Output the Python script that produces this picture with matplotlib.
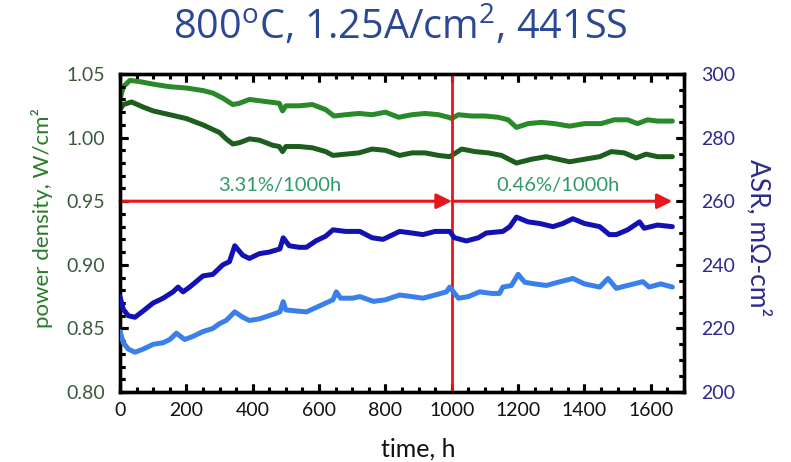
import matplotlib
matplotlib.use("Agg")
import matplotlib.pyplot as plt
from matplotlib.ticker import MultipleLocator, FormatStrFormatter

plt.rcParams.update({
    'font.family': ['Lato', 'DejaVu Sans'],
    'mathtext.fontset': 'custom',
    'mathtext.rm': 'Open Sans',
})

# Power density, cell A (upper curve)
t_pd_a = [0, 10, 30, 60, 100, 150, 200, 250, 280, 310, 340, 360, 390, 420, 480, 490,
          500, 540, 580, 620, 645, 680, 720, 760, 800, 840, 880, 920, 960, 990, 1000,
          1020, 1060, 1100, 1140, 1170, 1195, 1230, 1270, 1310, 1355, 1400, 1450, 1490,
          1530, 1560, 1590, 1620, 1665]
pd_a = [1.030, 1.040, 1.045, 1.044, 1.042, 1.040, 1.039, 1.037, 1.035, 1.031, 1.026,
        1.027, 1.030, 1.029, 1.027, 1.021, 1.025, 1.025, 1.026, 1.022, 1.017, 1.018,
        1.019, 1.018, 1.020, 1.016, 1.018, 1.019, 1.018, 1.016, 1.015, 1.018, 1.017,
        1.017, 1.016, 1.014, 1.008, 1.011, 1.012, 1.011, 1.009, 1.011, 1.011, 1.014,
        1.014, 1.011, 1.014, 1.013, 1.013]

# Power density, cell B (lower curve)
t_pd_b = [0, 10, 35, 70, 100, 150, 200, 250, 300, 320, 340, 360, 390, 420, 460, 480,
          490, 500, 540, 580, 620, 642, 680, 720, 760, 800, 843, 880, 920, 960, 994,
          1000, 1030, 1070, 1110, 1150, 1195, 1240, 1285, 1320, 1355, 1400, 1446, 1481,
          1520, 1556, 1586, 1620, 1665]
pd_b = [1.022, 1.026, 1.028, 1.024, 1.021, 1.018, 1.015, 1.010, 1.004, 0.999, 0.995,
        0.996, 0.999, 0.998, 0.994, 0.993, 0.989, 0.993, 0.993, 0.992, 0.989, 0.986,
        0.987, 0.988, 0.991, 0.990, 0.986, 0.988, 0.988, 0.986, 0.985, 0.986, 0.991,
        0.989, 0.988, 0.986, 0.980, 0.983, 0.985, 0.983, 0.981, 0.983, 0.985, 0.989,
        0.988, 0.984, 0.987, 0.985, 0.985]

# ASR, cell B (upper ASR curve), mOhm-cm2
t_asr_b = [0, 10, 25, 45, 70, 100, 130, 160, 175, 190, 210, 250, 280, 310, 330, 346,
           370, 390, 420, 450, 482, 492, 510, 540, 562, 590, 620, 642, 680, 723, 760,
           793, 843, 880, 913, 950, 994, 1008, 1044, 1080, 1104, 1154, 1175, 1195, 1230,
           1265, 1305, 1335, 1365, 1400, 1446, 1475, 1496, 1530, 1566, 1580, 1620, 1665]
asr_b = [230.0, 226.0, 224.0, 223.5, 225.5, 228.0, 229.5, 231.5, 233.0, 231.5, 233.0,
         236.5, 237.0, 240.0, 241.0, 246.0, 243.0, 242.0, 243.5, 244.0, 245.0, 248.5,
         246.0, 245.5, 245.5, 247.5, 249.0, 251.0, 250.5, 250.5, 248.5, 248.0, 250.5,
         250.0, 249.5, 250.5, 250.5, 248.5, 247.5, 248.5, 250.0, 250.5, 252.0, 255.0,
         253.5, 253.0, 252.0, 253.0, 254.5, 253.0, 252.0, 249.5, 249.5, 251.0, 253.5,
         251.5, 252.5, 252.0]

# ASR, cell A (lower ASR curve), mOhm-cm2
t_asr_a = [0, 10, 25, 45, 70, 100, 130, 150, 170, 195, 220, 250, 280, 300, 320, 346,
           370, 390, 420, 450, 482, 492, 500, 530, 562, 600, 642, 652, 665, 700, 723,
           764, 800, 843, 880, 913, 950, 984, 994, 1020, 1050, 1084, 1120, 1144, 1154,
           1180, 1200, 1220, 1250, 1285, 1320, 1365, 1400, 1446, 1471, 1496, 1530, 1576,
           1595, 1630, 1665]
asr_a = [219.0, 215.5, 213.5, 212.5, 213.5, 215.0, 215.5, 216.5, 218.5, 216.5, 217.5,
         219.0, 220.0, 221.5, 222.5, 225.2, 223.5, 222.5, 223.0, 224.0, 225.2, 228.4,
         225.8, 225.5, 225.2, 227.0, 229.0, 231.5, 229.5, 229.5, 230.0, 228.5, 229.0,
         230.5, 230.0, 229.5, 230.5, 231.5, 233.0, 229.5, 230.0, 231.5, 231.0, 231.0,
         233.0, 233.5, 237.0, 234.5, 234.0, 233.5, 234.5, 235.7, 234.0, 233.0, 235.7,
         232.6, 233.5, 234.7, 233.0, 234.0, 233.0]

# Degradation rates over the two periods
split_time = 1000
end_time = 1665
arrow_level = 0.95
rate_labels = ["3.31%/1000h", "0.46%/1000h"]
rate_label_x = [482, 1319]

x_ticks = list(range(0, 1601, 200))

fig = plt.figure(figsize=(7.91, 4.62), dpi=100)
ax = fig.add_axes([0.1517, 0.1515, 0.713, 0.6883])
ax2 = ax.twinx()

green_light = '#2a8a2a'
green_dark = '#1d5e1f'
blue_dark = '#1212b4'
blue_light = '#3a80ea'
red = '#e8161b'

line_kw = dict(lw=3.6, solid_joinstyle='round', solid_capstyle='round')
ax.plot(t_pd_a, pd_a, color=green_light, **line_kw, zorder=3)
ax.plot(t_pd_b, pd_b, color=green_dark, **line_kw, zorder=3)
ax2.plot(t_asr_b, asr_b, color=blue_dark, **line_kw, zorder=3)
ax2.plot(t_asr_a, asr_a, color=blue_light, **line_kw, zorder=3)

ax.set_xlim(0, 1700)
ax.set_ylim(0.80, 1.05)
ax2.set_ylim(200, 300)

# Red markers: split line and the two period arrows
ax.axvline(split_time, color=red, lw=2, zorder=5)
arrow_kw = dict(arrowstyle='-|>,head_length=0.9,head_width=0.45', color=red, lw=2.2,
                shrinkA=0, shrinkB=0)
ax.annotate('', xy=(split_time, arrow_level), xytext=(0, arrow_level),
            arrowprops=arrow_kw, zorder=6)
ax.annotate('', xy=(end_time, arrow_level), xytext=(split_time, arrow_level),
            arrowprops=arrow_kw, zorder=6)
for lbl, xp in zip(rate_labels, rate_label_x):
    ax.text(xp, arrow_level + 0.0055, lbl, color='#2e9a6c', fontsize=14.5,
            ha='center', va='bottom')

# Tick positions
ax.set_xticks(x_ticks)
ax.xaxis.set_minor_locator(MultipleLocator(50))
ax.yaxis.set_major_locator(MultipleLocator(0.05))
ax.yaxis.set_minor_locator(MultipleLocator(0.01))
ax.yaxis.set_major_formatter(FormatStrFormatter('%.2f'))
ax2.yaxis.set_major_locator(MultipleLocator(20))
ax2.yaxis.set_minor_locator(MultipleLocator(5))

# Tick marks: inward on all four sides
ax.tick_params(axis='x', which='both', direction='in', top=True, bottom=True)
ax.tick_params(axis='y', which='both', direction='in', left=True, right=False)
ax2.tick_params(axis='y', which='both', direction='in', left=False, right=True)
for a in (ax, ax2):
    a.tick_params(which='major', length=5.8, width=2.2, color='black')
    a.tick_params(which='minor', length=3.3, width=2.2, color='black')
ax.tick_params(axis='x', which='major', labelsize=14, labelcolor='#111111', pad=7)
ax.tick_params(axis='y', which='major', labelsize=14, labelcolor='#3b5a3b', pad=11)
ax2.tick_params(axis='y', which='major', labelsize=14, labelcolor='#2b2b8c', pad=12)

# Also stroke the inward tick marks as line segments at the locator positions
tick_style = dict(colors='black', lw=2.2, clip_on=False, zorder=4)
x_lo, x_hi = ax.get_xlim()
xtr = ax.get_xaxis_transform()
for locs, frac in ((ax.xaxis.get_majorticklocs(), 0.025),
                   (ax.xaxis.get_minorticklocs(), 0.014)):
    locs = [v for v in locs if x_lo <= v <= x_hi]
    ax.vlines(locs, 0, frac, transform=xtr, **tick_style)
    ax.vlines(locs, 1 - frac, 1, transform=xtr, **tick_style)
y_lo, y_hi = ax.get_ylim()
for locs, frac in ((ax.yaxis.get_majorticklocs(), 0.0142),
                   (ax.yaxis.get_minorticklocs(), 0.008)):
    locs = [v for v in locs if y_lo - 1e-9 <= v <= y_hi + 1e-9]
    ax.hlines(locs, 0, frac, transform=ax.get_yaxis_transform(), **tick_style)
r_lo, r_hi = ax2.get_ylim()
for locs, frac in ((ax2.yaxis.get_majorticklocs(), 0.0142),
                   (ax2.yaxis.get_minorticklocs(), 0.008)):
    locs = [v for v in locs if r_lo - 1e-9 <= v <= r_hi + 1e-9]
    ax2.hlines(locs, 1 - frac, 1, transform=ax2.get_yaxis_transform(), **tick_style)

for a in (ax, ax2):
    for s in a.spines.values():
        s.set_linewidth(2.4)

ax.set_xlabel('time, h', fontsize=18, color='#111111')
ax.xaxis.set_label_coords(0.528, -0.142)
ax.set_ylabel('power density, W/cm²', fontsize=16, color='#2a7a2a')
ax.yaxis.set_label_coords(-0.118, 0.548)
ax2.set_ylabel('ASR, mΩ-cm²', fontsize=19, color='#2b2b8c', rotation=270)
ax2.yaxis.set_label_coords(1.155, 0.485)

fig.text(0.506, 0.942, r'800$^\mathrm{o}$C, 1.25A/cm$^\mathrm{2}$, 441SS',
         fontsize=28.5, color='#2a4894', ha='center', va='center',
         family=['Open Sans', 'DejaVu Sans'])

fig.savefig('out.png', dpi=100)
